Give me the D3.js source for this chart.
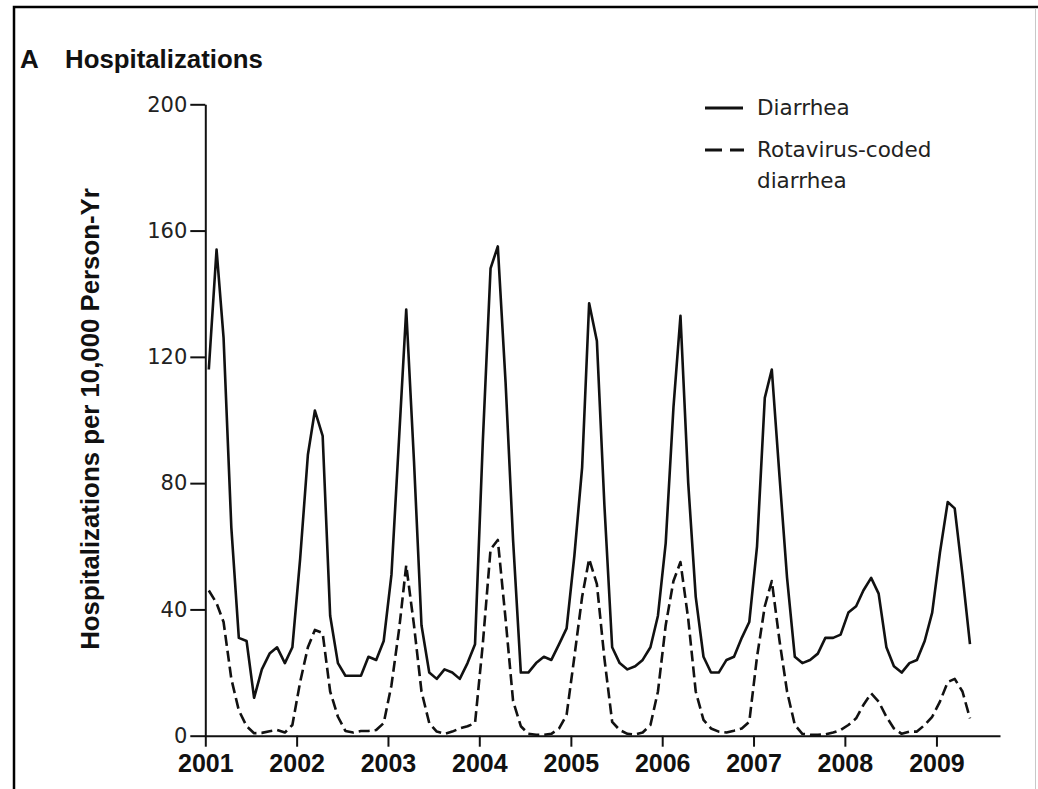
<!DOCTYPE html>
<html>
<head>
<meta charset="utf-8">
<script src="https://cdn.jsdelivr.net/npm/d3@7"></script>
<style>
    body { margin: 0; background: #fff; }
    svg { display: block; }
</style>
</head>
<body>
<div id="chart"></div>
<script>
// -------------------- DATA --------------------

// monthly values, Jan 2001 .. May 2009
let startYear = 2001;

let diarrhea = [
    116, 154, 126, 66, 31, 30, 12, 21, 26, 28, 23, 28,      // 2001
    56, 89, 103, 95, 38, 23, 19, 19, 19, 25, 24, 30,        // 2002
    51, 95, 135, 87, 35, 20, 18, 21, 20, 18, 23, 29,        // 2003
    93, 148, 155, 112, 62, 20, 20, 23, 25, 24, 29, 34,      // 2004
    57, 85, 137, 125, 73, 28, 23, 21, 22, 24, 28, 38,       // 2005
    61, 104, 133, 80, 44, 25, 20, 20, 24, 25, 31, 36,       // 2006
    60, 107, 116, 82, 50, 25, 23, 24, 26, 31, 31, 32,       // 2007
    39, 41, 46, 50, 45, 28, 22, 20, 23, 24, 30, 39,         // 2008
    58, 74, 72, 51, 29                                      // 2009
];

let rotavirus = [
    46, 42, 36, 18, 8, 3, 0.8, 0.9, 1.4, 1.8, 1, 3.4,
    17, 28, 33.5, 32.5, 14, 6, 1.5, 1, 1.5, 1.5, 1.8, 4,
    16, 34, 54, 35, 14, 4, 1.3, 0.6, 1.3, 2.3, 3, 4,
    29, 59, 62, 37, 11, 3, 0.6, 0.3, 0.3, 0.6, 2.3, 6.6,
    25, 44, 56, 48, 24.5, 4.4, 1.8, 0.6, 0.4, 1, 3.4, 14,
    35, 49, 55, 37, 14, 5, 2.3, 1.3, 1, 1.6, 2.3, 4.4,
    25, 41, 49, 30, 14, 3.4, 0.6, 0.3, 0.3, 0.4, 1, 1.8,
    3.4, 5.5, 9.7, 13.4, 10.8, 6, 2.3, 0.6, 1.3, 1.3, 3.4, 6,
    10.8, 17, 18, 14, 5.5
];

let yearTicks = [2001, 2002, 2003, 2004, 2005, 2006, 2007, 2008, 2009];
let valueTicks = [0, 40, 80, 120, 160, 200];

let seriesNames = ["Diarrhea", "Rotavirus-coded", "diarrhea"];

// -------------------- VISUALIZATION --------------------

function toSeries(values) {
    // each value sits in the middle of its month
    return values.map((v, i) => ({ date: new Date(startYear, i, 15), value: v }));
}

function createChart(width, height, source) {
    let labelFont = "DejaVu Sans";
    let boldFont = "Liberation Sans";

    const svg = d3.select(source)
        .append("svg")
        .attr("width", width)
        .attr("height", height)
        .attr("viewBox", [0, 0, width, height]);

    svg.append("rect")
        .attr("width", width)
        .attr("height", height)
        .attr("fill", "#fff");

    // panel frame
    svg.append("path")
        .attr("d", "M14,789V7H1038")
        .attr("fill", "none")
        .attr("stroke", "#000")
        .attr("stroke-width", 2.5);
    svg.append("line")
        .attr("x1", 1035.5).attr("x2", 1035.5)
        .attr("y1", 8).attr("y2", height)
        .attr("stroke", "#c8c8c8")
        .attr("stroke-width", 1);

    let x = d3.scaleTime()
        .domain([new Date(2001, 0, 1), new Date(2009, 8, 12)])
        .range([205.3, 1000]);
    let y = d3.scaleLinear()
        .domain([0, 200])
        .range([735.7, 104.3]);

    let xAxis = g => g
        .attr("transform", `translate(0,${y(0)})`)
        .call(d3.axisBottom(x)
            .tickValues(yearTicks.map(yr => new Date(yr, 0, 1)))
            .tickFormat(d3.timeFormat("%Y"))
            .tickSize(11)
            .tickSizeOuter(0)
            .tickPadding(8))
        .call(g => g.selectAll("line, path").attr("stroke", "#111").attr("stroke-width", 2))
        .call(g => g.selectAll("text")
            .attr("fill", "#111")
            .attr("font-family", boldFont)
            .attr("font-weight", "bold")
            .attr("font-size", 25));

    let yAxis = g => g
        .attr("transform", `translate(${x.range()[0]},0)`)
        .call(d3.axisLeft(y)
            .tickValues(valueTicks)
            .tickSize(15)
            .tickSizeOuter(0)
            .tickPadding(3))
        .call(g => g.selectAll("line, path").attr("stroke", "#111").attr("stroke-width", 2))
        .call(g => g.selectAll("text")
            .attr("fill", "#222")
            .attr("font-family", labelFont)
            .attr("font-size", 21));

    svg.append("g").call(yAxis);
    svg.append("g").call(xAxis);

    let line = d3.line()
        .x(d => x(d.date))
        .y(d => y(d.value));

    svg.append("path")
        .datum(toSeries(rotavirus))
        .attr("fill", "none")
        .attr("stroke", "#111")
        .attr("stroke-width", 2.6)
        .attr("stroke-dasharray", "11,5")
        .attr("stroke-linejoin", "round")
        .attr("d", line);

    svg.append("path")
        .datum(toSeries(diarrhea))
        .attr("fill", "none")
        .attr("stroke", "#111")
        .attr("stroke-width", 2.6)
        .attr("stroke-linejoin", "round")
        .attr("d", line);

    // panel title
    svg.append("text")
        .attr("x", 20)
        .attr("y", 68)
        .attr("font-family", boldFont)
        .attr("font-weight", "bold")
        .attr("font-size", 26)
        .attr("fill", "#111")
        .text("A");
    svg.append("text")
        .attr("x", 65)
        .attr("y", 68)
        .attr("font-family", boldFont)
        .attr("font-weight", "bold")
        .attr("font-size", 25.8)
        .attr("fill", "#111")
        .text("Hospitalizations");

    // y axis title
    svg.append("text")
        .attr("transform", "translate(98.5,419) rotate(-90)")
        .attr("text-anchor", "middle")
        .attr("font-family", boldFont)
        .attr("font-weight", "bold")
        .attr("font-size", 25.8)
        .attr("fill", "#111")
        .text("Hospitalizations per 10,000 Person-Yr");

    // legend
    let legend = svg.append("g")
        .attr("font-family", labelFont)
        .attr("font-size", 21.5)
        .attr("fill", "#222");

    legend.append("line")
        .attr("x1", 705).attr("x2", 743)
        .attr("y1", 108).attr("y2", 108)
        .attr("stroke", "#111")
        .attr("stroke-width", 3);
    legend.append("line")
        .attr("x1", 705).attr("x2", 744)
        .attr("y1", 150).attr("y2", 150)
        .attr("stroke", "#111")
        .attr("stroke-width", 3)
        .attr("stroke-dasharray", "17,8");

    legend.selectAll("text")
        .data(seriesNames)
        .join("text")
        .attr("x", 757)
        .attr("y", (d, i) => [115, 157, 188][i])
        .text(d => d);

    return svg.node();
}

createChart(1038, 789, "#chart");
</script>
</body>
</html>
